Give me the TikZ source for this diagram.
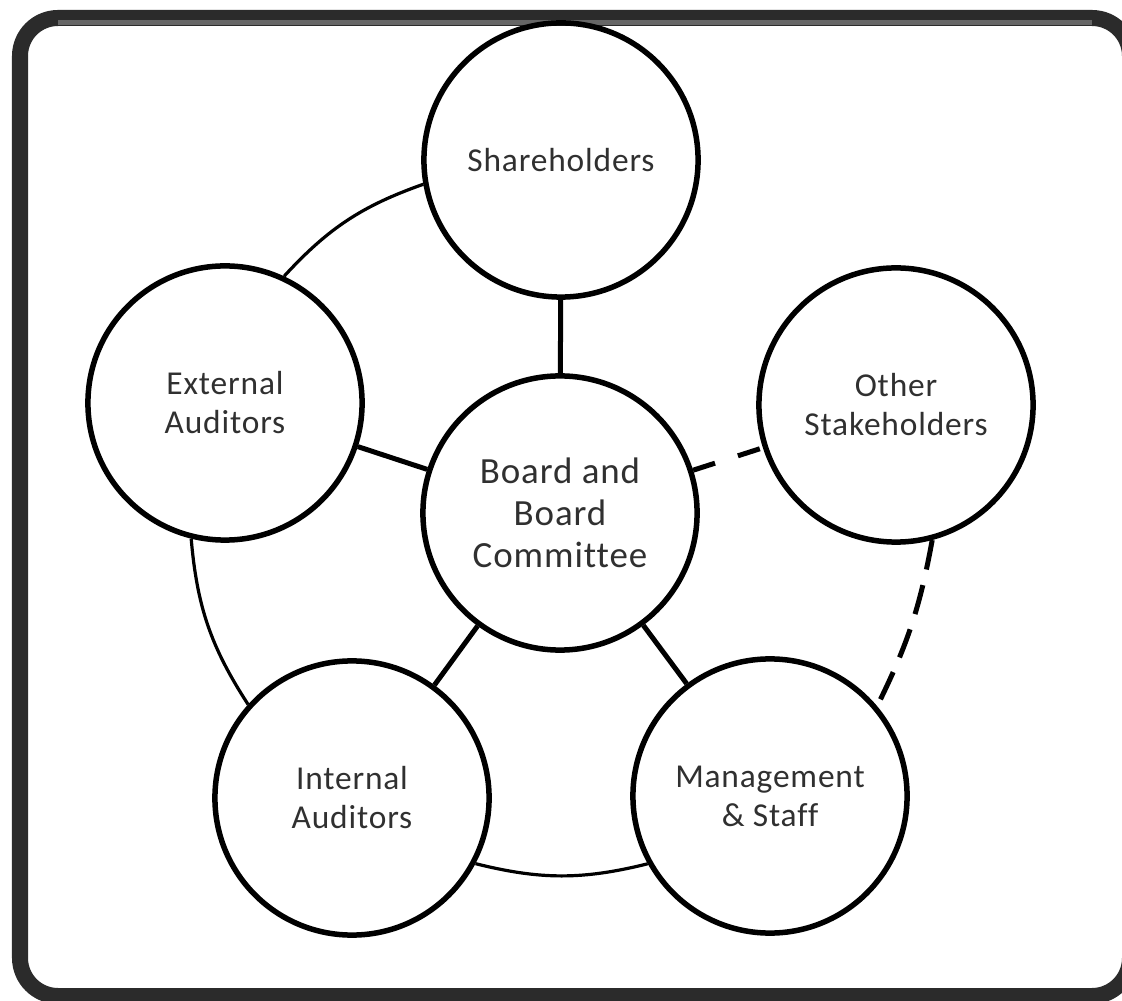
\documentclass[tikz,border=0pt]{standalone}
\usepackage{fontspec}
\setmainfont{Carlito}[Ligatures=CommonOff,LetterSpace=2.5]
\usepackage{tikz}

\definecolor{framegray}{HTML}{2B2B2B}
\definecolor{framelight}{HTML}{666666}
\definecolor{txtgray}{HTML}{303030}

\begin{document}
\begin{tikzpicture}[x=0.01cm,y=-0.01cm,
        party/.style={circle,draw,line width=0.055cm,minimum size=2.74cm,
            inner sep=0pt,align=center,text=txtgray,
            font=\fontsize{9.5pt}{11.1pt}\selectfont},
        link/.style={line width=0.05cm},
        ring/.style={line width=0.032cm},
        informal/.style={line width=0.05cm,dash pattern=on 0.23cm off 0.24cm}]
        \useasboundingbox (0,0) rectangle (1122,1001);

        % Frame
        \draw [framegray,line width=0.16cm,rounded corners=0.38cm]
            (20,18) rectangle (1130,996);
        \draw [framelight,line width=0.05cm] (58,22.5) -- (1092,22.5);

        % Parties
        \node [party] (sh) at (561,160) {Shareholders};
        \node [party] (ext) at (225,403) {External\\Auditors};
        \node [party] (oth) at (896,405) {Other\\Stakeholders};
        \node [party,font=\fontsize{10.5pt}{12pt}\selectfont] (brd) at (560,513)
            {Board and\\Board\\Committee};
        \node [party] (int) at (352,798) {Internal\\Auditors};
        \node [party] (mgt) at (770,796) {Management\\\& Staff};

        % Links to the board
        \draw [link] (sh) -- (brd);
        \draw [link] (ext) -- (brd);
        \draw [link] (brd) -- (int);
        \draw [link] (brd) -- (mgt);
        \draw [informal] (brd) -- (oth);

        % Outer ring
        \draw [ring] (sh.190) to[bend right=14] (ext.65);
        \draw [ring] (ext.256) to[bend right=14] (int.138);
        \draw [ring] (int.332) to[bend right=14] (mgt.209);
        \draw [informal,dash pattern=on 0.3cm off 0.16cm]
            (oth.285) to[bend left=8] (mgt.40);
    \end{tikzpicture}
\end{document}
